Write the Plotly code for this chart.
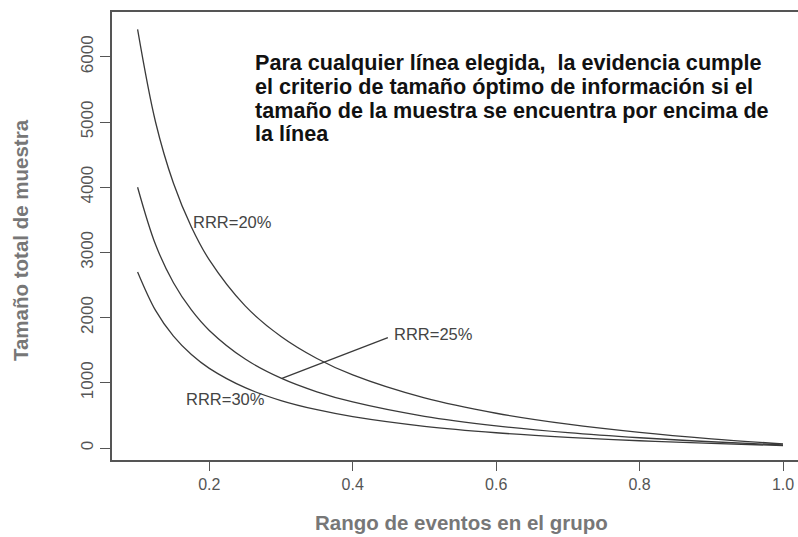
import plotly.graph_objects as go

# Event rate in the control group (x) and total sample size for each RRR curve
event_rate = [0.1, 0.125, 0.15, 0.175, 0.2, 0.25, 0.3, 0.35, 0.4, 0.5, 0.6, 0.7, 0.8, 0.9, 1.0]
rrr20 = [6420, 5000, 4060, 3390, 2885, 2180, 1710, 1373, 1120, 768, 533, 365, 239, 141, 63]
rrr25 = [4000, 3120, 2535, 2117, 1803, 1364, 1071, 862, 706, 486, 340, 235, 157, 96, 47]
rrr30 = [2700, 2110, 1715, 1433, 1221, 925, 728, 587, 481, 333, 234, 164, 111, 70, 37]

series_names = ["RRR=20%", "RRR=25%", "RRR=30%"]

x_ticks = [0.2, 0.4, 0.6, 0.8, 1.0]
x_tick_labels = ["0.2", "0.4", "0.6", "0.8", "1.0"]
y_ticks = [0, 1000, 2000, 3000, 4000, 5000, 6000]
y_tick_labels = ["0", "1000", "2000", "3000", "4000", "5000", "6000"]

# label anchor positions (data units)
label_x = [0.1744, 0.4548, 0.165]
label_y = [3466, 1748, 752]
leader_x = [0.449, 0.3013]
leader_y = [1692, 1069]

note_lines = ["Para cualquier línea elegida,\u00a0 la evidencia cumple",
              "el criterio de tamaño óptimo de información si el",
              "tamaño de la muestra se encuentra por encima de",
              "la línea"]
note_x = 0.2613
note_y = [5905, 5537, 5169, 4816]

FONT = "Liberation Sans, Arial, Helvetica, sans-serif"
LINE = "#3a3a3a"
AX = "#555555"

fig = go.Figure()
for name, ys in zip(series_names, [rrr20, rrr25, rrr30]):
    fig.add_trace(go.Scatter(x=event_rate, y=ys, mode="lines", name=name,
                             line=dict(color=LINE, width=1.3, shape="spline", smoothing=1.0),
                             showlegend=False, hoverinfo="skip"))

fig.add_trace(go.Scatter(x=leader_x, y=leader_y, mode="lines",
                         line=dict(color=LINE, width=1.3), showlegend=False, hoverinfo="skip"))

for name, lx, ly in zip(series_names, label_x, label_y):
    fig.add_annotation(x=lx, y=ly, text=name, showarrow=False, xanchor="left", yanchor="middle",
                       font=dict(family=FONT, size=16.5, color="#444444"))

for txt, ny in zip(note_lines, note_y):
    fig.add_annotation(x=note_x, y=ny, text=txt, showarrow=False, xanchor="left", yanchor="middle",
                       align="left", font=dict(family=FONT, size=21.6, color="#111111", weight="bold"))

# axis titles
fig.add_annotation(xref="paper", yref="paper", x=0.510, y=-0.1406, text="Rango de eventos en el grupo",
                   showarrow=False, xanchor="center", yanchor="middle",
                   font=dict(family=FONT, size=20.5, color="#777777", weight="bold"))
fig.add_annotation(xref="paper", yref="paper", x=-0.1341, y=0.491, text="Tamaño total de muestra",
                   showarrow=False, textangle=-90, xanchor="center", yanchor="middle",
                   font=dict(family=FONT, size=20.5, color="#777777", weight="bold"))

fig.update_xaxes(range=[0.0643, 1.0209], tickvals=x_ticks, ticktext=x_tick_labels,
                 showline=True, linecolor=AX, linewidth=1.5, mirror=True,
                 ticks="outside", ticklen=9, tickcolor=AX, tickwidth=1.3,
                 showgrid=False, zeroline=False, ticklabeloverflow="allow",
                 tickfont=dict(family=FONT, size=16, color="#555555"))
fig.update_yaxes(range=[-184, 6687], tickvals=y_ticks, ticktext=y_tick_labels,
                 showline=True, linecolor=AX, linewidth=1.5, mirror=False,
                 ticks="outside", ticklen=10, tickcolor=AX, tickwidth=1.3, tickangle=-90,
                 showgrid=False, zeroline=False,
                 tickfont=dict(family=FONT, size=17, color="#555555"))

fig.update_layout(width=798, height=537, margin=dict(l=112, r=0, t=12, b=77),
                  plot_bgcolor="white", paper_bgcolor="white")

# remove the default 8px page margin so the figure fills the window exactly
fig.write_html("out.html", config={"displayModeBar": False},
               post_script="document.body.style.margin='0';document.body.style.overflow='hidden';")
